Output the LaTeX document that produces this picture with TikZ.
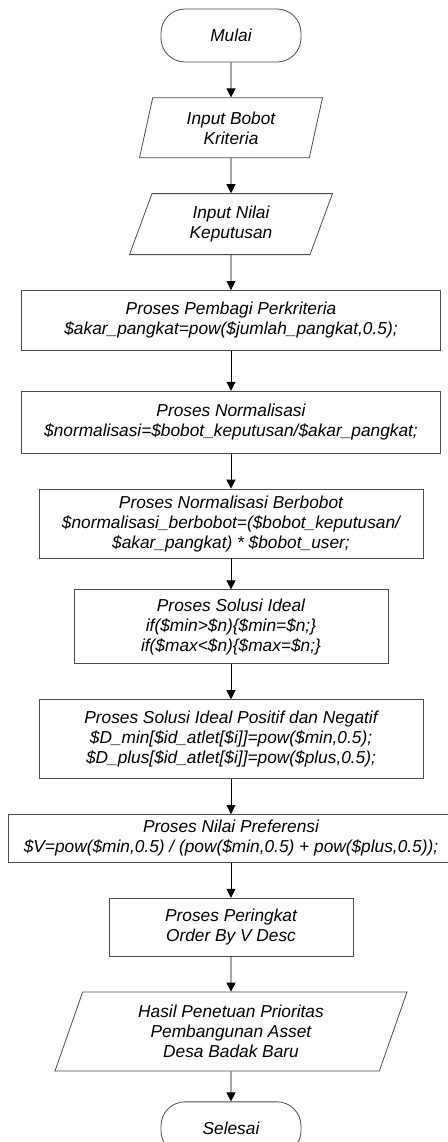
\documentclass[tikz,border=0pt]{standalone}
\usepackage{fontspec}
\setmainfont{Liberation Sans}
\usetikzlibrary{positioning,shapes.geometric,arrows.meta}

\begin{document}
\begin{tikzpicture}[%
    ->,
    >={Triangle[length=4.5pt,width=4.5pt]},
    node distance=17.5pt,
    font=\fontsize{8.65}{10}\selectfont\itshape,
    terminal/.style={%
      rectangle,
      rounded corners=12pt,
      minimum width=70pt,
      minimum height=26.5pt,
      draw=black!70
    },
    proses/.style={%
      rectangle,
      align=center,
      inner sep=2pt,
      draw=black!70
    },
    data/.style={%
      trapezium,
      trapezium stretches body,
      align=center,
      inner sep=2pt,
      draw=black!70
    }
  ]
    \useasboundingbox (0,0) rectangle (224pt,-571pt);

    \node[terminal] (mulai) at (115.5pt,-17.75pt)                 {Mulai};
    \node[data,trapezium left angle=72,trapezium right angle=108,
          minimum width=91.5pt,minimum height=30pt] (bobot) [below=of mulai]
          {Input Bobot\\Kriteria};
    \node[data,trapezium left angle=63,trapezium right angle=117,
          minimum width=101.5pt,minimum height=30.5pt] (nilai) [below=of bobot]
          {Input Nilai\\Keputusan};
    \node[proses,minimum width=209.5pt,minimum height=30pt] (pembagi) [below=of nilai]
          {Proses Pembagi Perkriteria\\\$akar\_pangkat=pow(\$jumlah\_pangkat,0.5);};
    \node[proses,minimum width=209.5pt,minimum height=31pt] (normal) [node distance=20pt,below=of pembagi]
          {Proses Normalisasi\\\$normalisasi=\$bobot\_keputusan/\$akar\_pangkat;};
    \node[proses,minimum width=192pt,minimum height=34.5pt] (berbobot) [below=of normal]
          {Proses Normalisasi Berbobot\\\$normalisasi\_berbobot=(\$bobot\_keputusan/\\\$akar\_pangkat) * \$bobot\_user;};
    \node[proses,minimum width=157pt,minimum height=37pt] (ideal) [node distance=15.5pt,below=of berbobot]
          {Proses Solusi Ideal\\if(\$min>\$n)\{\$min=\$n;\}\\if(\$max<\$n)\{\$max=\$n;\}};
    \node[proses,minimum width=192pt,minimum height=39.5pt] (positif) [below=of ideal]
          {Proses Solusi Ideal Positif dan Negatif\\\$D\_min[\$id\_atlet[\$i]]=pow(\$min,0.5);\\\$D\_plus[\$id\_atlet[\$i]]=pow(\$plus,0.5);};
    \node[proses,minimum width=223pt,minimum height=24pt] (preferensi) [below=of positif]
          {Proses Nilai Preferensi\\\$V=pow(\$min,0.5) / (pow(\$min,0.5) + pow(\$plus,0.5));};
    \node[proses,minimum width=122pt,minimum height=29pt] (peringkat) [below=of preferensi]
          {Proses Peringkat\\Order By V Desc};
    \node[data,trapezium left angle=65.5,trapezium right angle=114.5,
          minimum width=176pt,minimum height=39.5pt] (hasil) [below=of peringkat]
          {Hasil Penetuan Prioritas\\Pembangunan Asset\\Desa Badak Baru};
    \node[terminal] (selesai) [node distance=15pt,below=of hasil]  {Selesai};

    \path (mulai) edge (bobot)
          (bobot) edge (nilai)
          (nilai) edge (pembagi)
          (pembagi) edge (normal)
          (normal) edge (berbobot)
          (berbobot) edge (ideal)
          (ideal) edge (positif)
          (positif) edge (preferensi)
          (preferensi) edge (peringkat)
          (peringkat) edge (hasil)
          (hasil) edge (selesai);
  \end{tikzpicture}
\end{document}
